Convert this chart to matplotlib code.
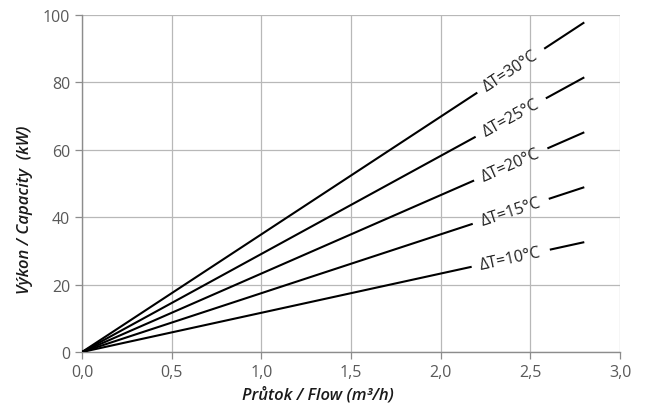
import numpy as np
import matplotlib
matplotlib.use("Agg")
import matplotlib.pyplot as plt

plt.rcParams['font.family'] = ['Open Sans', 'DejaVu Sans']

delta_t = [30, 25, 20, 15, 10]
flow_end = 2.8
capacity_end = [97.8, 81.5, 65.2, 48.9, 32.6]
label_x = 2.39
xticks = [0.0, 0.5, 1.0, 1.5, 2.0, 2.5, 3.0]
xtick_labels = ["0,0", "0,5", "1,0", "1,5", "2,0", "2,5", "3,0"]
yticks = [0, 20, 40, 60, 80, 100]

fig = plt.figure(figsize=(6.46, 4.10), dpi=100)
ax = fig.add_axes([0.127, 0.139, 0.833, 0.822])
ax.set_xlim(0, 3.0)
ax.set_ylim(0, 100)

gap_px = 80.0
for dt, ce in zip(delta_t, capacity_end):
    p0 = ax.transData.transform((0, 0))
    p1 = ax.transData.transform((flow_end, ce))
    length = np.hypot(*(p1 - p0))
    tc = label_x / flow_end
    dtp = (gap_px / 2) / length
    a_end = ax.transData.inverted().transform(p0 + (p1 - p0) * (tc - dtp))
    b_start = ax.transData.inverted().transform(p0 + (p1 - p0) * (tc + dtp))
    ax.plot([0, a_end[0]], [0, a_end[1]], color='black', lw=1.5, solid_capstyle='butt', zorder=3)
    ax.plot([b_start[0], flow_end], [b_start[1], ce], color='black', lw=1.5, solid_capstyle='butt', zorder=3)
    ang = np.degrees(np.arctan2(ce, flow_end))
    ax.text(label_x, ce / flow_end * label_x, f"ΔT={dt}°C", rotation=ang,
            transform_rotates_text=True, rotation_mode='anchor',
            ha='center', va='center', fontsize=11.5, color='#222222',
            fontstyle='normal', fontweight='normal', zorder=4)

ax.set_xticks(xticks)
ax.set_xticklabels(xtick_labels)
ax.set_yticks(yticks)
ax.grid(True, color='#b8b8b8', lw=0.9)
ax.set_axisbelow(True)
for s in ['top', 'right']:
    ax.spines[s].set_visible(False)
for s in ['left', 'bottom']:
    ax.spines[s].set_color('#8c8c8c')
    ax.spines[s].set_linewidth(1.0)
ax.tick_params(axis='both', colors='#8c8c8c', labelcolor='#595959', labelsize=11.5,
               length=5, width=0.9, direction='out')
ax.set_xlabel("Průtok / Flow (m³/h)", fontsize=12, style='italic', fontweight='semibold',
              color='#1a1a1a', va='center')
ax.set_ylabel("Výkon / Capacity  (kW)", fontsize=12, style='italic', fontweight='semibold',
              color='#1a1a1a', va='center')
ax.xaxis.set_label_coords(0.439, -0.125)
ax.yaxis.set_label_coords(-0.106, 0.424)

fig.savefig("out.png", dpi=100)
